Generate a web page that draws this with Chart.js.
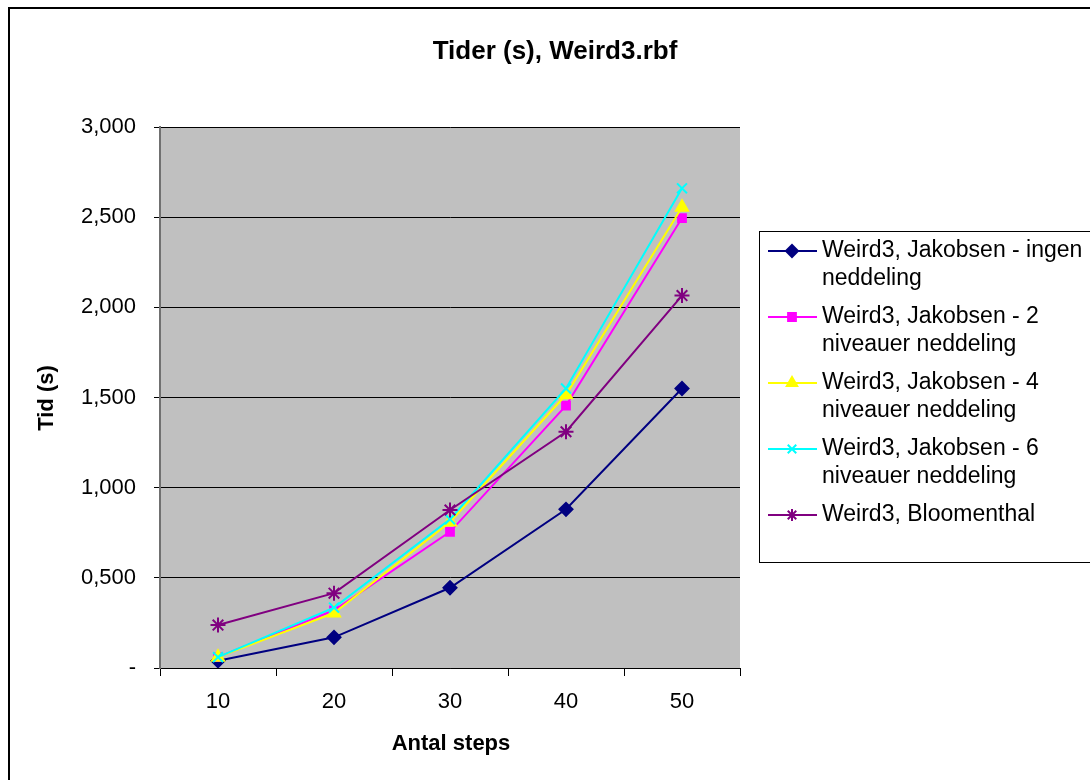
<!DOCTYPE html>
<html>
<head>
<meta charset="utf-8">
<script src="https://cdn.jsdelivr.net/npm/chart.js@4.4.0/dist/chart.umd.min.js"></script>
<style>
  html, body { margin: 0; padding: 0; background: #fff; }
  #wrap { width: 1090px; height: 780px; }
</style>
</head>
<body>
<div id="wrap"><canvas id="grafico" width="1090" height="780"></canvas></div>
<script>
// data (seconds)
const steps = ['10', '20', '30', '40', '50'];
const ingenNeddeling = [0.040, 0.170, 0.445, 0.880, 1.550];
const niveauer2 = [0.060, 0.320, 0.755, 1.455, 2.495];
const niveauer4 = [0.060, 0.305, 0.810, 1.515, 2.555];
const niveauer6 = [0.060, 0.335, 0.825, 1.550, 2.660];
const bloomenthal = [0.238, 0.415, 0.876, 1.310, 2.065];

const serieNavne = [
    ['Weird3, Jakobsen - ingen', 'neddeling'],
    ['Weird3, Jakobsen - 2', 'niveauer neddeling'],
    ['Weird3, Jakobsen - 4', 'niveauer neddeling'],
    ['Weird3, Jakobsen - 6', 'niveauer neddeling'],
    ['Weird3, Bloomenthal']
];
const yTicks = [0, 0.5, 1, 1.5, 2, 2.5, 3];

const FONT = '"Liberation Sans", Arial, sans-serif';

function serie(i, data, color, style, radius, width) {
    return {
        label: serieNavne[i].join(' '),
        data: data,
        borderColor: color,
        backgroundColor: color,
        borderWidth: width,
        pointStyle: style,
        pointRadius: radius,
        pointHoverRadius: radius,
        pointBorderWidth: 2,
        tension: 0,
        fill: false,
        order: 5 - i // Excel draws the last series on top
    };
}

const datasets = [
    serie(0, ingenNeddeling, '#000080', 'rectRot', 6.5, 2),
    serie(1, niveauer2, '#FF00FF', 'rect', 5.5, 2),
    serie(2, niveauer4, '#FFFF00', 'triangle', 7, 2),
    serie(3, niveauer6, '#00FFFF', 'crossRot', 7, 2),
    serie(4, bloomenthal, '#800080', 'star', 7.5, 2)
];

// grey plot area, outer frame, title, axis titles
const rammePlugin = {
    id: 'ramme',
    beforeDraw(chart) {
        const { ctx, chartArea: a } = chart;
        ctx.save();
        ctx.fillStyle = '#fff';
        ctx.fillRect(0, 0, chart.width, chart.height);
        ctx.fillStyle = '#C0C0C0';
        ctx.fillRect(a.left, a.top, a.right - a.left, a.bottom - a.top);
        ctx.fillStyle = '#000';
        ctx.fillRect(8, 7, chart.width - 8, 2);
        ctx.fillRect(8, 7, 2, chart.height - 7);
        ctx.restore();
    },
    afterDraw(chart) {
        const { ctx } = chart;
        ctx.save();
        ctx.fillStyle = '#000';
        ctx.textAlign = 'center';
        ctx.textBaseline = 'middle';
        ctx.font = 'bold 26px ' + FONT;
        ctx.fillText('Tider (s), Weird3.rbf', 555, 52);
        ctx.font = 'bold 22px ' + FONT;
        ctx.fillText('Antal steps', 451, 744);
        ctx.translate(47, 398);
        ctx.rotate(-Math.PI / 2);
        ctx.fillText('Tid (s)', 0, 0);
        ctx.restore();

        // legend box
        ctx.save();
        ctx.strokeStyle = '#000';
        ctx.lineWidth = 1;
        ctx.strokeRect(759.5, 231.5, 400, 331);
        ctx.font = '23px ' + FONT;
        ctx.textAlign = 'left';
        ctx.textBaseline = 'middle';
        chart.data.datasets.forEach((ds, i) => {
            const y = 251 + i * 66;
            ctx.strokeStyle = ds.borderColor;
            ctx.lineWidth = 2;
            ctx.beginPath();
            ctx.moveTo(768, y);
            ctx.lineTo(817, y);
            ctx.stroke();
            ctx.fillStyle = ds.backgroundColor;
            Chart.helpers.drawPoint(ctx, {
                pointStyle: ds.pointStyle,
                radius: Math.min(ds.pointRadius, 6),
                rotation: 0,
                borderWidth: 2
            }, 792, y);
            ctx.fillStyle = '#000';
            serieNavne[i].forEach((linje, j) => {
                ctx.fillText(linje, 822, y + j * 28);
            });
        });
        ctx.restore();
    }
};

new Chart(document.getElementById('grafico'), {
    type: 'line',
    data: { labels: steps, datasets: datasets },
    options: {
        responsive: false,
        animation: false,
        layout: { padding: { top: 127, right: 350, bottom: 0, left: 0 } },
        plugins: {
            legend: { display: false },
            title: { display: false },
            tooltip: { enabled: false }
        },
        scales: {
            x: {
                type: 'category',
                offset: true,
                afterFit: (s) => { s.height = 112; },
                grid: {
                    offset: true,
                    drawOnChartArea: false,
                    drawTicks: true,
                    tickLength: 8,
                    color: '#000'
                },
                border: { color: '#000', width: 1 },
                ticks: { color: '#000', padding: 13, font: { family: FONT, size: 22 } }
            },
            y: {
                min: 0,
                max: 3,
                afterFit: (s) => { s.width = 160; },
                afterBuildTicks: (s) => { s.ticks = yTicks.map(v => ({ value: v })); },
                grid: { color: '#000', lineWidth: 1, tickLength: 6 },
                border: { color: '#707070', width: 2 },
                ticks: {
                    color: '#000',
                    padding: 18,
                    font: { family: FONT, size: 22 },
                    callback: (v) => v === 0 ? '-' : v.toFixed(3).replace('.', ',')
                }
            }
        }
    },
    plugins: [rammePlugin]
});
</script>
</body>
</html>
